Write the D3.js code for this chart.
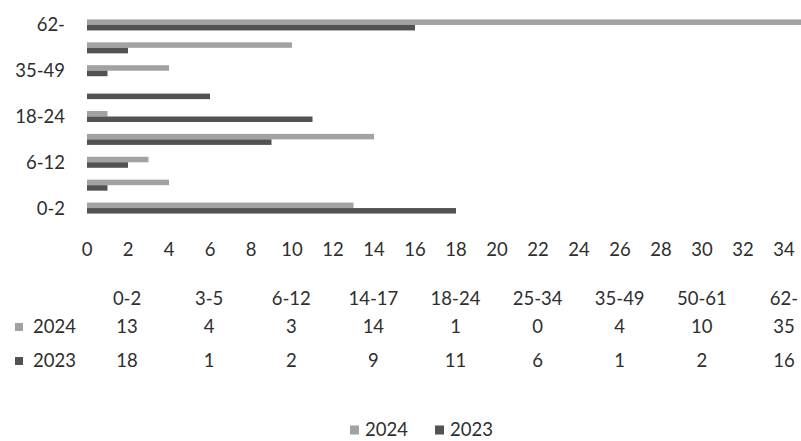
<!DOCTYPE html>
<html lang="en">
<head>
  <meta charset="UTF-8" />
  <title>2024 vs 2023 by age group</title>
  <script src="https://d3js.org/d3.v7.min.js"></script>
  <style>
    body {
      margin: 0;
      background-color: #ffffff;
    }

    svg text {
      font-family: Lato, 'Open Sans', sans-serif;
      font-size: 18.5px;
      fill: #2e2e2e;
    }
  </style>
</head>
<body>

  <div id="chart"></div>

  <script>
    // age groups, bottom to top in the bar area, left to right in the table
    const categories = ["0-2", "3-5", "6-12", "14-17", "18-24", "25-34", "35-49", "50-61", "62-"];
    const values2024 = [13, 4, 3, 14, 1, 0, 4, 10, 35];
    const values2023 = [18, 1, 2, 9, 11, 6, 1, 2, 16];
    // axis runs to 36 but the picture is cropped after the 34 label
    const xTicks = [0, 2, 4, 6, 8, 10, 12, 14, 16, 18, 20, 22, 24, 26, 28, 30, 32, 34];
    const shownCategoryLabels = ["0-2", "6-12", "18-24", "35-49", "62-"];

    const seriesList = [
      { name: "2024", values: values2024, color: "#a2a2a2" },
      { name: "2023", values: values2023, color: "#525252" }
    ];

    function drawChart() {
      const svgWidth = 801;
      const svgHeight = 441;

      const svg = d3.select("#chart")
        .append("svg")
        .attr("width", svgWidth)
        .attr("height", svgHeight);

      const x = d3.scaleLinear()
        .domain([0, 36])
        .range([87, 825]);

      const y = d3.scaleBand()
        .domain(categories)
        .range([219.5, 13.5]);

      drawBars(svg, x, y);
      drawCategoryLabels(svg, y);
      drawValueTicks(svg, x);
      drawDataTable(svg, x);
      drawLegend(svg);
    }

    function drawBars(svg, x, y) {
      const barH = 5.5;
      seriesList.forEach((s, si) => {
        svg.append("g")
          .selectAll("rect")
          .data(categories)
          .enter()
          .append("rect")
          .attr("x", x(0))
          .attr("y", (c) => y(c) + y.bandwidth() / 2 - barH + si * barH)
          .attr("width", (c, i) => x(s.values[i]) - x(0))
          .attr("height", barH)
          .attr("fill", s.color);
      });
    }

    function drawCategoryLabels(svg, y) {
      svg.append("g")
        .selectAll("text")
        .data(shownCategoryLabels)
        .enter()
        .append("text")
        .attr("x", 65)
        .attr("y", (c) => y(c) + y.bandwidth() / 2)
        .attr("dy", "0.35em")
        .attr("text-anchor", "end")
        .text((c) => c);
    }

    function drawValueTicks(svg, x) {
      svg.append("g")
        .selectAll("text")
        .data(xTicks)
        .enter()
        .append("text")
        .attr("x", (t) => x(t))
        .attr("y", 250)
        .attr("dy", "0.35em")
        .attr("text-anchor", "middle")
        .text((t) => t);
    }

    function drawDataTable(svg, x) {
      const col = d3.scaleBand()
        .domain(categories)
        .range([x(0) - 1, x(36)]);
      const headerY = 299;
      const rowY = [327, 361];

      svg.append("g")
        .selectAll("text")
        .data(categories)
        .enter()
        .append("text")
        .attr("x", (c) => col(c) + col.bandwidth() / 2)
        .attr("y", headerY)
        .attr("dy", "0.35em")
        .attr("text-anchor", "middle")
        .text((c) => c);

      seriesList.forEach((s, si) => {
        const row = svg.append("g");

        row.append("rect")
          .attr("x", 15)
          .attr("y", rowY[si] - 4)
          .attr("width", 8)
          .attr("height", 8)
          .attr("fill", s.color);

        row.append("text")
          .attr("x", 33)
          .attr("y", rowY[si])
          .attr("dy", "0.35em")
          .text(s.name);

        row.selectAll(".cell")
          .data(categories)
          .enter()
          .append("text")
          .attr("class", "cell")
          .attr("x", (c) => col(c) + col.bandwidth() / 2)
          .attr("y", rowY[si])
          .attr("dy", "0.35em")
          .attr("text-anchor", "middle")
          .text((c, i) => s.values[i]);
      });
    }

    function drawLegend(svg) {
      const legendY = 430;
      const starts = [350, 435];

      const item = svg.selectAll(".legend-item")
        .data(seriesList)
        .enter()
        .append("g")
        .attr("class", "legend-item")
        .attr("transform", (d, i) => `translate(${starts[i]}, ${legendY})`);

      item.append("rect")
        .attr("x", 0)
        .attr("y", -4.5)
        .attr("width", 9)
        .attr("height", 9)
        .attr("fill", (d) => d.color);

      item.append("text")
        .attr("x", 15)
        .attr("dy", "0.35em")
        .text((d) => d.name);
    }

    drawChart();
  </script>

</body>
</html>
